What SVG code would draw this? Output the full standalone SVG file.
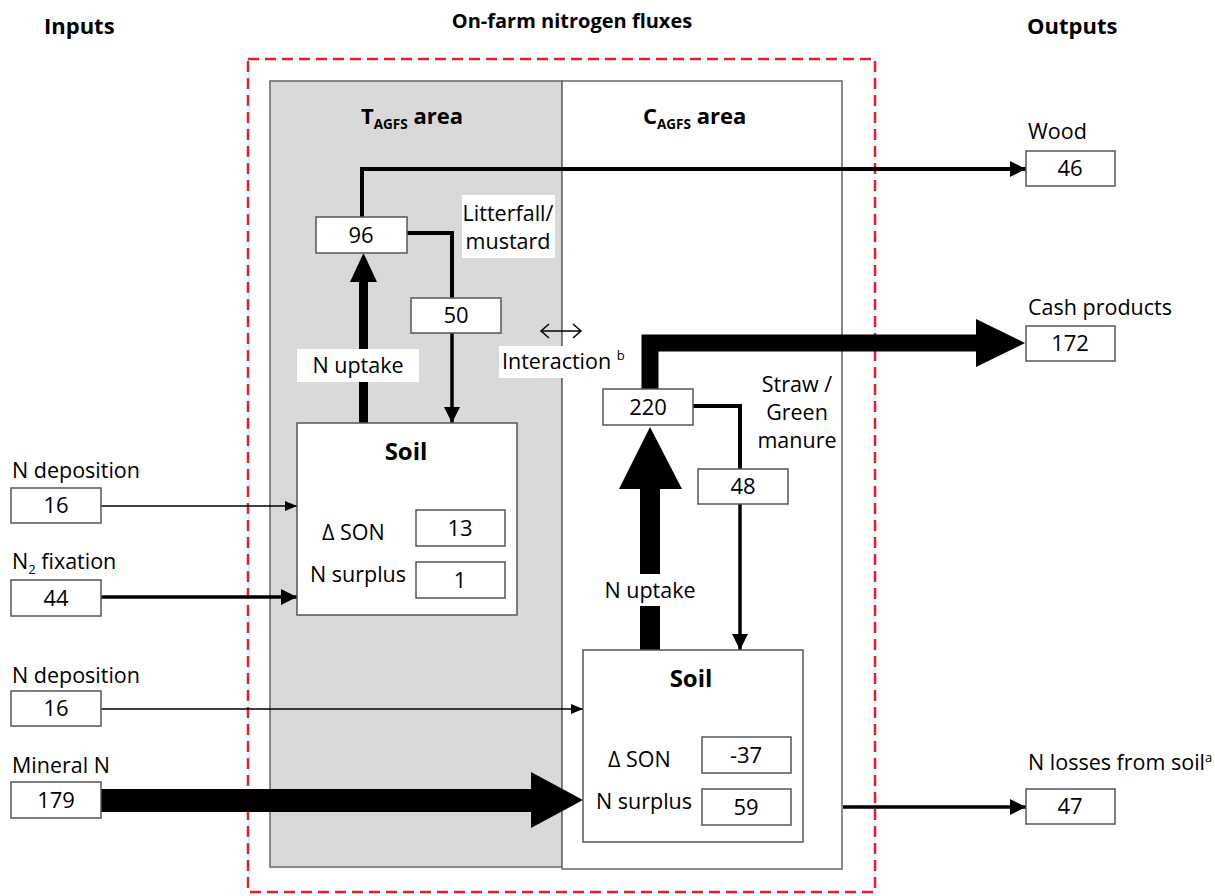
<svg xmlns="http://www.w3.org/2000/svg" width="1215" height="896" viewBox="0 0 1215 896">
  <style>
    text { font-family: "Open Sans", "Liberation Sans", sans-serif; fill: #000; }
    .lbl { font-size: 21.5px; }
    .num { font-size: 22px; text-anchor: middle; }
    .head { font-size: 22px; font-weight: bold; }
    .title { font-size: 20px; font-weight: bold; text-anchor: middle; }
    .soil { font-size: 24px; font-weight: bold; text-anchor: middle; }
    .sub { font-size: 13.5px; font-weight: bold; }
    .sup { font-size: 13px; }
    .box { fill: #fff; stroke: #555; stroke-width: 1.5; }
    .soilbox { fill: #fff; stroke: #555; stroke-width: 1.5; }
    .bg { fill: #fff; stroke: none; }
    .ln { fill: none; stroke: #000; stroke-linejoin: miter; }
    .thin { stroke-width: 1.5; }
    .mid { stroke-width: 3.5; }
    .fat { fill: #000; stroke: none; }
  </style>
  <defs>
    <marker id="tipS" markerUnits="userSpaceOnUse" viewBox="0 0 12 10" refX="12" refY="5" markerWidth="12" markerHeight="10" orient="auto">
      <path d="M0,0 L12,5 L0,10 Z" fill="#000"/>
    </marker>
    <marker id="tipM" markerUnits="userSpaceOnUse" viewBox="0 0 16 16" refX="16" refY="8" markerWidth="16" markerHeight="16" orient="auto">
      <path d="M0,0 L16,8 L0,16 Z" fill="#000"/>
    </marker>
  </defs>

  <!-- column headings -->
  <text class="head" x="44" y="34">Inputs</text>
  <text class="title" x="572" y="28">On-farm nitrogen fluxes</text>
  <text class="head" x="1027" y="34">Outputs</text>

  <!-- farm boundary -->
  <rect id="farm" x="248" y="59" width="627" height="833" fill="none" stroke="#e0202a" stroke-width="2.5" stroke-dasharray="11,6"/>

  <!-- tree and crop areas -->
  <g id="area-trees">
    <rect x="270" y="81" width="292" height="786" fill="#d9d9d9" stroke="#666" stroke-width="1.5"/>
    <text class="head" x="361" y="124">T<tspan class="sub" dy="5">AGFS</tspan><tspan dy="-5"> area</tspan></text>
  </g>
  <g id="area-crops">
    <rect x="562" y="81" width="280" height="788" fill="#fff" stroke="#666" stroke-width="1.5"/>
    <text class="head" x="643" y="124">C<tspan class="sub" dy="5">AGFS</tspan><tspan dy="-5"> area</tspan></text>
  </g>

  <!-- flows -->
  <g id="connectors">
    <!-- inputs -->
    <line class="ln thin" x1="101" y1="506" x2="297" y2="506" marker-end="url(#tipS)"/>
    <line class="ln mid" x1="101" y1="597" x2="297" y2="597" marker-end="url(#tipM)"/>
    <line class="ln thin" x1="101" y1="709" x2="583" y2="709" marker-end="url(#tipS)"/>
    <rect class="fat" x="101" y="789" width="431" height="23"/>
    <polygon class="fat" points="531,772 583,800 531,828"/>

    <!-- tree uptake and wood -->
    <rect class="fat" x="359" y="280" width="9" height="143"/>
    <polygon class="fat" points="350,282 363.5,253 377,282"/>
    <polyline class="ln" stroke-width="4" points="362,218 362,169 1026,169" marker-end="url(#tipM)"/>
    <!-- litterfall return -->
    <polyline class="ln" stroke-width="4" points="407,233 452,233 452,298"/>
    <line class="ln mid" x1="452" y1="333" x2="452" y2="423" marker-end="url(#tipM)"/>

    <!-- crop uptake and cash products -->
    <rect class="fat" x="640" y="486" width="20" height="164"/>
    <polygon class="fat" points="619,489 650,427 682,489"/>
    <polyline class="ln" stroke-width="17" points="650,390 650,343 977,343"/>
    <polygon class="fat" points="976,319 1025,343 976,367"/>
    <!-- straw / green manure return -->
    <polyline class="ln" stroke-width="4" points="693,406 740,406 740,469"/>
    <line class="ln mid" x1="740" y1="504" x2="740" y2="650" marker-end="url(#tipM)"/>

    <!-- losses -->
    <line class="ln mid" x1="843" y1="807" x2="1026" y2="807" marker-end="url(#tipM)"/>

    <!-- interaction between areas -->
    <g class="ln thin">
      <line x1="541" y1="331" x2="581" y2="331"/>
      <polyline points="549,324 541,331 549,338"/>
      <polyline points="573,324 581,331 573,338"/>
    </g>
  </g>

  <!-- flow labels -->
  <g id="label-litterfall">
    <rect class="bg" x="462" y="195" width="93" height="63"/>
    <text class="lbl" x="508" y="221" text-anchor="middle">Litterfall/</text>
    <text class="lbl" x="508" y="249" text-anchor="middle">mustard</text>
  </g>
  <g id="label-uptake-trees">
    <rect class="bg" x="297" y="349" width="122" height="33"/>
    <text class="lbl" x="358" y="373" text-anchor="middle">N uptake</text>
  </g>
  <g id="label-interaction">
    <rect class="bg" x="499" y="346" width="126" height="32"/>
    <text class="lbl" x="502" y="369">Interaction <tspan class="sup" dy="-9">b</tspan></text>
  </g>
  <g id="label-straw">
    <text class="lbl" x="797" y="392" text-anchor="middle">Straw /</text>
    <text class="lbl" x="797" y="420" text-anchor="middle">Green</text>
    <text class="lbl" x="797" y="448" text-anchor="middle">manure</text>
  </g>
  <g id="label-uptake-crops">
    <rect class="bg" x="602" y="574" width="96" height="32"/>
    <text class="lbl" x="650" y="598" text-anchor="middle">N uptake</text>
  </g>

  <!-- input nodes -->
  <g id="in-deposition-trees">
    <text class="lbl" x="12" y="478">N deposition</text>
    <rect class="box" x="11" y="488" width="90" height="35"/>
    <text class="num" x="56" y="513">16</text>
  </g>
  <g id="in-fixation">
    <text class="lbl" x="12" y="569">N<tspan class="sup" dy="5">2</tspan><tspan dy="-5"> fixation</tspan></text>
    <rect class="box" x="11" y="580" width="90" height="36"/>
    <text class="num" x="56" y="606">44</text>
  </g>
  <g id="in-deposition-crops">
    <text class="lbl" x="12" y="683">N deposition</text>
    <rect class="box" x="11" y="691" width="90" height="35"/>
    <text class="num" x="56" y="716">16</text>
  </g>
  <g id="in-mineral">
    <text class="lbl" x="12" y="773">Mineral N</text>
    <rect class="box" x="11" y="782" width="90" height="36"/>
    <text class="num" x="56" y="808">179</text>
  </g>

  <!-- internal pools -->
  <g id="pool-trees">
    <rect class="box" x="316" y="217" width="91" height="36"/>
    <text class="num" x="361" y="243">96</text>
  </g>
  <g id="return-trees">
    <rect class="box" x="411" y="298" width="90" height="35"/>
    <text class="num" x="456" y="323">50</text>
  </g>
  <g id="soil-trees">
    <rect class="soilbox" x="297" y="423" width="220" height="192"/>
    <text class="soil" x="406" y="460">Soil</text>
    <text class="lbl" x="322" y="540">Δ SON</text>
    <rect class="box" x="416" y="510" width="89" height="36"/>
    <text class="num" x="460" y="536">13</text>
    <text class="lbl" x="310" y="582">N surplus</text>
    <rect class="box" x="416" y="562" width="89" height="36"/>
    <text class="num" x="460" y="588">1</text>
  </g>
  <g id="pool-crops">
    <rect class="box" x="603" y="389" width="90" height="36"/>
    <text class="num" x="648" y="415">220</text>
  </g>
  <g id="return-crops">
    <rect class="box" x="698" y="469" width="90" height="35"/>
    <text class="num" x="743" y="494">48</text>
  </g>
  <g id="soil-crops">
    <rect class="soilbox" x="583" y="650" width="220" height="192"/>
    <text class="soil" x="691" y="687">Soil</text>
    <text class="lbl" x="608" y="767">Δ SON</text>
    <rect class="box" x="702" y="737" width="89" height="36"/>
    <text class="num" x="746" y="763">-37</text>
    <text class="lbl" x="596" y="809">N surplus</text>
    <rect class="box" x="702" y="789" width="89" height="36"/>
    <text class="num" x="746" y="815">59</text>
  </g>

  <!-- output nodes -->
  <g id="out-wood">
    <text class="lbl" x="1028" y="139">Wood</text>
    <rect class="box" x="1026" y="151" width="89" height="35"/>
    <text class="num" x="1070" y="176">46</text>
  </g>
  <g id="out-cash">
    <text class="lbl" x="1028" y="315">Cash products</text>
    <rect class="box" x="1026" y="326" width="89" height="35"/>
    <text class="num" x="1070" y="351">172</text>
  </g>
  <g id="out-losses">
    <text class="lbl" x="1028" y="770">N losses from soil<tspan class="sup" dy="-8">a</tspan></text>
    <rect class="box" x="1026" y="789" width="89" height="35"/>
    <text class="num" x="1070" y="814">47</text>
  </g>
</svg>
